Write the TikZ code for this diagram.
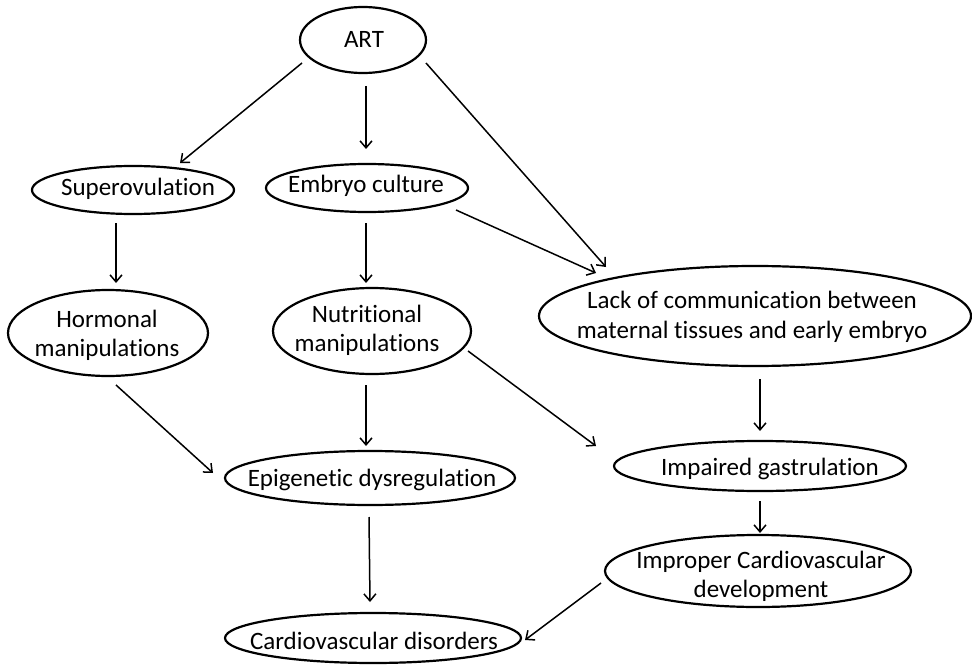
\documentclass[tikz,border=0pt]{standalone}
\usepackage{fontspec}
\setmainfont{Carlito}[Ligatures=NoCommon]
\usetikzlibrary{shapes.geometric,arrows.meta,calc}
\begin{document}
\begin{tikzpicture}[x=1pt,y=-1pt,
  oval/.style={draw, ellipse, line width=2.2pt, inner sep=0pt},
  txt/.style={anchor=base, inner sep=0pt, font=\fontsize{25}{30}\selectfont},
  arr/.style={line width=1.5pt, -{Straight Barb[length=7pt,width=12pt,line width=1.5pt]}}]
\useasboundingbox (0,0) rectangle (972,666);
% ellipses
\node[oval, minimum width=126pt, minimum height=66pt] (ART) at (363,40) {};
\node[oval, minimum width=202pt, minimum height=48pt] (Sup) at (133,190) {};
\node[oval, minimum width=202pt, minimum height=48pt] (Emb) at (367,188) {};
\node[oval, minimum width=200pt, minimum height=86pt] (Hor) at (108,333) {};
\node[oval, minimum width=198pt, minimum height=86pt] (Nut) at (372,331) {};
\node[oval, minimum width=432pt, minimum height=100pt] (Lack) at (755,316) {};
\node[oval, minimum width=290pt, minimum height=54pt] (Epi) at (370,478) {};
\node[oval, minimum width=292pt, minimum height=50pt] (Imp) at (760,466) {};
\node[oval, minimum width=306pt, minimum height=72pt] (Impr) at (758,571) {};
\node[oval, minimum width=296pt, minimum height=50pt] (Car) at (373,638) {};
% texts
\node[txt] (tART) at (364,48) {ART};
\node[txt] (tSup) at (138,195) {Superovulation};
\node[txt] (tEmb) at (366,193) {Embryo culture};
\node[txt] (tHor1) at (107,327) {Hormonal};
\node[txt] (tHor2) at (107,356) {manipulations};
\node[txt] (tNut1) at (367,322) {Nutritional};
\node[txt] (tNut2) at (367,351) {manipulations};
\node[txt] (tLack1) at (752,308) {Lack of communication between};
\node[txt] (tLack2) at (752,338) {maternal tissues and early embryo};
\node[txt] (tEpi) at (372,486) {Epigenetic dysregulation};
\node[txt] (tImp) at (770,475) {Impaired gastrulation};
\node[txt] (tImpr1) at (761,568) {Improper Cardiovascular};
\node[txt] (tImpr2) at (761,597) {development};
\node[txt] (tCar) at (374,649) {Cardiovascular disorders};
% arrows
\draw[arr] ($(ART)+(-61,23)$) -- ($(Sup)+(47,-27)$);
\draw[arr] ($(ART)+(3,46)$) -- ($(Emb)+(-1,-39)$);
\draw[arr] ($(ART)+(63,23)$) -- ($(Lack)+(-149,-49)$);
\draw[arr] ($(Emb)+(89,22)$) -- ($(Lack)+(-159,-43)$);
\draw[arr] ($(Sup)+(-17,33)$) -- ($(Hor)+(8,-50)$);
\draw[arr] ($(Emb)+(-1,35)$) -- ($(Nut)+(-6,-48)$);
\draw[arr] ($(Hor)+(8,52)$) -- ($(Epi)+(-157,-5)$);
\draw[arr] ($(Nut)+(-6,54)$) -- ($(Epi)+(-4,-32)$);
\draw[arr] ($(Nut)+(96,20)$) -- ($(Imp)+(-164,-20)$);
\draw[arr] ($(Lack)+(5,63)$) -- ($(Imp)+(0,-35)$);
\draw[arr] ($(Epi)+(-1,39)$) -- ($(Car)+(-3,-36)$);
\draw[arr] ($(Imp)+(0,35)$) -- ($(Impr)+(2,-38)$);
\draw[arr] ($(Impr)+(-157,12)$) -- ($(Car)+(152,2)$);
\end{tikzpicture}
\end{document}
